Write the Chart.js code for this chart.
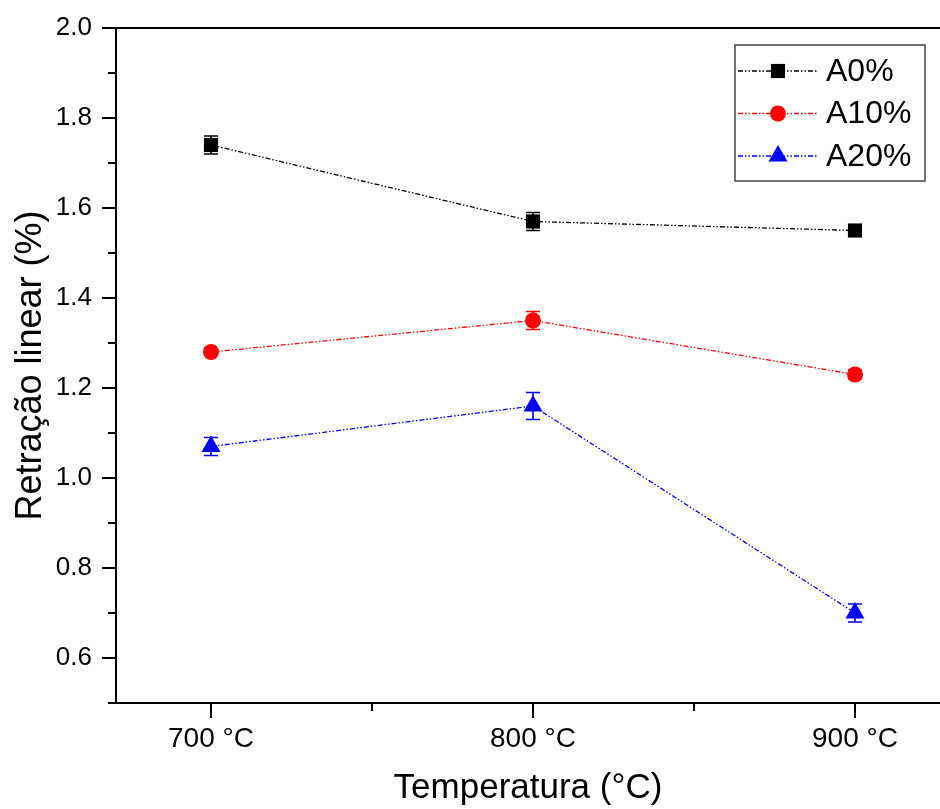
<!DOCTYPE html>
<html>
<head>
<meta charset="utf-8">
<script src="https://cdn.jsdelivr.net/npm/chart.js@4"></script>
<style>
  html, body { margin: 0; padding: 0; background: #fff; }
  #wrap { width: 940px; height: 809px; }
</style>
</head>
<body>
<div id="wrap"><canvas id="chart"></canvas></div>
<script>
// Data
const temperatures = [700, 800, 900];
const seriesNames = ["A0%", "A10%", "A20%"];
const a0 = [1.74, 1.57, 1.55];
const a10 = [1.28, 1.35, 1.23];
const a20 = [1.07, 1.16, 0.70];
const a0Err = [0.02, 0.02, 0.005];
const a10Err = [0.005, 0.02, 0.01];
const a20Err = [0.02, 0.03, 0.02];

// Axis ticks
const yMajorTicks = [0.6, 0.8, 1.0, 1.2, 1.4, 1.6, 1.8, 2.0];
const yMinorTicks = [0.5, 0.7, 0.9, 1.1, 1.3, 1.5, 1.7, 1.9];
const xMajorTicks = [700, 800, 900];
const xMinorTicks = [750, 850];

const FONT = "'Liberation Sans', Arial, sans-serif";
const dashDotDot = [5, 2, 1.5, 2, 1.5, 2];

function makeSeries(label, values, errors, color, style, radius) {
  return {
    label: label,
    data: values.map((v, i) => ({ x: temperatures[i], y: v })),
    errors: errors,
    borderColor: color,
    backgroundColor: color,
    borderWidth: 1.3,
    borderDash: dashDotDot,
    pointStyle: style,
    pointRadius: radius,
    pointHoverRadius: radius,
    pointBackgroundColor: color,
    pointBorderColor: color,
    pointBorderWidth: 0,
    tension: 0,
  };
}

const datasets = [
  makeSeries(seriesNames[0], a0, a0Err, "#000000", "rect", 10),
  makeSeries(seriesNames[1], a10, a10Err, "#ff0000", "circle", 8),
  makeSeries(seriesNames[2], a20, a20Err, "#0000ff", "triangle", 11),
];

// Error bars, minor ticks, top frame line, legend
const extrasPlugin = {
  id: "extras",
  beforeDatasetsDraw(chart) {
    const ctx = chart.ctx;
    const xs = chart.scales.x, ys = chart.scales.y;
    ctx.save();
    chart.data.datasets.forEach((ds) => {
      ctx.strokeStyle = ds.borderColor;
      ctx.lineWidth = 1.6;
      ds.data.forEach((p, i) => {
        const e = ds.errors[i];
        const px = xs.getPixelForValue(p.x);
        const top = ys.getPixelForValue(p.y + e);
        const bot = ys.getPixelForValue(p.y - e);
        ctx.beginPath();
        ctx.moveTo(px, top); ctx.lineTo(px, bot);
        ctx.moveTo(px - 7, top); ctx.lineTo(px + 7, top);
        ctx.moveTo(px - 7, bot); ctx.lineTo(px + 7, bot);
        ctx.stroke();
      });
    });
    ctx.restore();
  },
  afterDraw(chart) {
    const ctx = chart.ctx;
    const xs = chart.scales.x, ys = chart.scales.y;
    const area = chart.chartArea;
    ctx.save();
    ctx.strokeStyle = "#000";
    ctx.lineWidth = 2;
    ctx.beginPath();
    yMinorTicks.forEach((v) => {
      const py = Math.round(ys.getPixelForValue(v));
      ctx.moveTo(area.left - 8, py); ctx.lineTo(area.left, py);
    });
    xMinorTicks.forEach((v) => {
      const px = Math.round(xs.getPixelForValue(v));
      ctx.moveTo(px, area.bottom); ctx.lineTo(px, area.bottom + 8);
    });
    ctx.moveTo(area.left, area.top); ctx.lineTo(chart.width, area.top);
    ctx.stroke();

    // legend box
    const bx = 735, by = 45, bw = 190, bh = 136;
    ctx.fillStyle = "#fff";
    ctx.fillRect(bx, by, bw, bh);
    ctx.strokeStyle = "#444";
    ctx.lineWidth = 1.5;
    ctx.strokeRect(bx, by, bw, bh);
    chart.data.datasets.forEach((ds, i) => {
      const cy = 71 + i * 42.5;
      ctx.save();
      ctx.strokeStyle = ds.borderColor;
      ctx.lineWidth = 1.3;
      ctx.setLineDash(ds.borderDash);
      ctx.beginPath();
      ctx.moveTo(738, cy); ctx.lineTo(818, cy);
      ctx.stroke();
      ctx.restore();
      ctx.fillStyle = ds.pointBackgroundColor;
      ctx.strokeStyle = ds.pointBorderColor;
      Chart.helpers.drawPoint(ctx, { pointStyle: ds.pointStyle, radius: ds.pointRadius, rotation: 0, borderWidth: 0 }, 778, cy);
      ctx.fillStyle = "#000";
      ctx.font = "32px " + FONT;
      ctx.textBaseline = "middle";
      ctx.textAlign = "left";
      ctx.fillText(ds.label, 826, cy + 1);
    });
    ctx.restore();
  },
};

new Chart(document.getElementById("chart"), {
  type: "line",
  data: { datasets: datasets },
  plugins: [extrasPlugin],
  options: {
    responsive: true,
    maintainAspectRatio: false,
    animation: false,
    layout: { autoPadding: false, padding: { top: 28, right: 0, left: 0, bottom: 0 } },
    plugins: { legend: { display: false }, tooltip: { enabled: false } },
    scales: {
      x: {
        type: "linear",
        min: 670.5,
        max: 926.4,
        afterFit(scale) {
          scale.height = 106;
          scale.paddingLeft = 0;
          scale.paddingRight = 0;
        },
        afterBuildTicks(scale) { scale.ticks = xMajorTicks.map((v) => ({ value: v })); },
        grid: { drawOnChartArea: false, tickLength: 15, lineWidth: 2, color: "#000" },
        border: { display: true, color: "#000", width: 2 },
        ticks: {
          color: "#000",
          font: { family: FONT, size: 28 },
          padding: 4,
          maxRotation: 0,
          callback: (v) => v + " °C",
        },
        title: {
          display: true,
          text: "Temperatura (°C)",
          color: "#000",
          font: { family: FONT, size: 35 },
          padding: { top: 0, bottom: 0 },
        },
      },
      y: {
        min: 0.5,
        max: 2.0,
        afterFit(scale) { scale.width = 116; },
        afterBuildTicks(scale) { scale.ticks = yMajorTicks.map((v) => ({ value: v })); },
        grid: { drawOnChartArea: false, tickLength: 14, lineWidth: 2, color: "#000" },
        border: { display: true, color: "#000", width: 2 },
        ticks: {
          color: "#000",
          font: { family: FONT, size: 26 },
          padding: 10,
          callback: (v) => v.toFixed(1),
        },
        title: {
          display: true,
          text: "Retração linear (%)",
          color: "#000",
          font: { family: FONT, size: 36 },
          padding: { top: 9, bottom: 0 },
        },
      },
    },
  },
});
</script>
</body>
</html>
